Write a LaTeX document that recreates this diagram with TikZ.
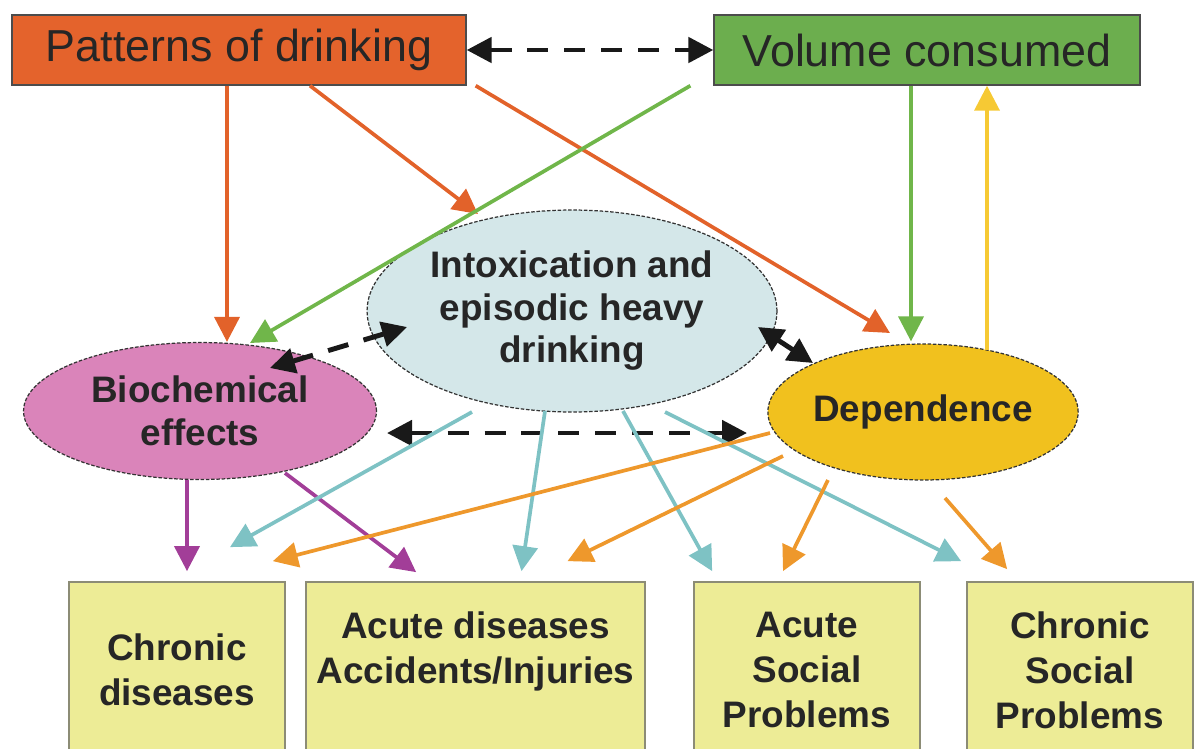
\documentclass[tikz,border=0pt]{standalone}
\usepackage{fontspec}
\setmainfont{Liberation Sans}
\usetikzlibrary{arrows.meta,calc,shapes.geometric}

\definecolor{patfill}{RGB}{228,99,44}
\definecolor{volfill}{RGB}{108,174,78}
\definecolor{intoxfill}{RGB}{212,231,233}
\definecolor{biofill}{RGB}{218,132,186}
\definecolor{depfill}{RGB}{241,193,30}
\definecolor{boxfill}{RGB}{237,236,150}
\definecolor{boxline}{RGB}{140,140,118}
\definecolor{patline}{RGB}{226,98,42}
\definecolor{volline}{RGB}{112,182,74}
\definecolor{yelline}{RGB}{246,201,52}
\definecolor{bioline}{RGB}{162,62,152}
\definecolor{intoxline}{RGB}{126,194,196}
\definecolor{depline}{RGB}{238,152,44}

\begin{document}
\begin{tikzpicture}[x=0.02cm,y=-0.02cm,>={Triangle[length=5mm,width=5mm]},
  topbox/.style={draw=black!70,line width=0.8pt,minimum height=1.4cm,inner sep=0pt,text=black!85,font=\fontsize{25.5}{30}\selectfont},
  bubble/.style={ellipse,draw=black!80,line width=0.7pt,dash pattern=on 2pt off 1pt,inner sep=0pt,align=center,text=black!85,font=\bfseries\fontsize{21}{24.2}\selectfont},
  outbox/.style={draw=boxline,line width=1pt,fill=boxfill,minimum height=3.52cm,inner sep=0pt,align=center,text=black!85,font=\bfseries\fontsize{21}{25.6}\selectfont},
  link/.style={->,line width=2.1pt},
  twoway/.style={<->,line width=2.8pt,draw=black!90},
  twowaydash/.style={twoway,dash pattern=on 12pt off 9pt}]
\useasboundingbox (0,0) rectangle (1195,748);
\clip (0,0) rectangle (1195,748);

% top row
\node[topbox,fill=patfill,minimum width=9.08cm] (pat) at (239,50) {\raisebox{-2pt}{Patterns of drinking}};
\node[topbox,fill=volfill,minimum width=8.52cm] (vol) at (927,50) {\raisebox{-2pt}{Volume consumed}};

% middle row
\node[bubble,fill=intoxfill,minimum width=8.2cm,minimum height=4.04cm] (intox) at (572,311) {Intoxication and\\episodic heavy\\drinking};
\node[bubble,fill=biofill,minimum width=7.06cm,minimum height=2.74cm] (bio) at (200,411) {Biochemical\\effects};
\node[bubble,fill=depfill,minimum width=6.12cm,minimum height=2.72cm] (dep) at (923,412) {Dependence};

% bottom row
\node[outbox,minimum width=4.32cm] (chr) at (177,670) {Chronic\\diseases};
\node[outbox,minimum width=6.78cm] (acu) at (475.5,670) {Acute diseases\\Accidents/Injuries\\\mbox{}};
\node[outbox,minimum width=4.52cm] (asp) at (807,670) {Acute\\Social\\Problems};
\node[outbox,minimum width=4.52cm] (csp) at (1080,670) {Chronic\\Social\\Problems};

% patterns and volume
\draw[twowaydash] (pat.east) -- (vol.west);
\draw[link,patline] ($(pat.south)+(-12,0)$) coordinate (p1) -- (p1 |- bio.north);
\draw[link,patline] ($(pat.south)+(71,0)$) -- ($(intox.center)+(-94,-97)$);
\draw[link,patline] ($(pat.south east)+(9,0)$) -- ($(dep.center)+(-33,-79)$);
\draw[link,volline] ($(vol.south west)+(-23,0)$) -- ($(bio.center)+(50,-68)$);
\draw[link,volline] ($(vol.south)+(-16,0)$) coordinate (v1) -- ($(v1 |- dep.north)+(0,-2)$);
\draw[link,yelline] ($(dep.center)+(64,-62)$) -- ($(vol.south)+(60,0)$);

% links between the middle row
\draw[twowaydash] ($(bio.center)+(70,-43)$) -- ($(intox.center)+(-165,16)$);
\draw[twoway] ($(intox.center)+(186,16)$) -- ($(dep.center)+(-110,-49)$);
\draw[twowaydash] ($(bio.center)+(187,22)$) -- ($(dep.center)+(-176,21)$);

% outcomes
\draw[link,bioline] ($(bio.south)+(-13,0)$) -- ($(chr.north)+(10,-10)$);
\draw[link,bioline] ($(bio.center)+(85,62)$) -- ($(acu.north west)+(111,-9)$);
\draw[link,intoxline] ($(intox.center)+(-100,101)$) -- ($(chr.north)+(53,-34)$);
\draw[link,intoxline] ($(intox.center)+(-27,100)$) -- ($(acu.north)+(46,-10)$);
\draw[link,intoxline] ($(intox.center)+(51,100)$) -- ($(asp.north west)+(19,-10)$);
\draw[link,intoxline] ($(intox.center)+(93,101)$) -- ($(csp.north west)+(-5,-20)$);
\draw[link,depline] ($(dep.center)+(-153,21)$) -- ($(chr.north east)+(-13,-20)$);
\draw[link,depline] ($(dep.center)+(-140,44)$) -- ($(acu.north)+(92,-20)$);
\draw[link,depline] ($(dep.center)+(-95,68)$) -- ($(asp.north)+(-24,-10)$);
\draw[link,depline] ($(dep.center)+(22,86)$) -- ($(csp.north west)+(41,-12)$);
\end{tikzpicture}
\end{document}
